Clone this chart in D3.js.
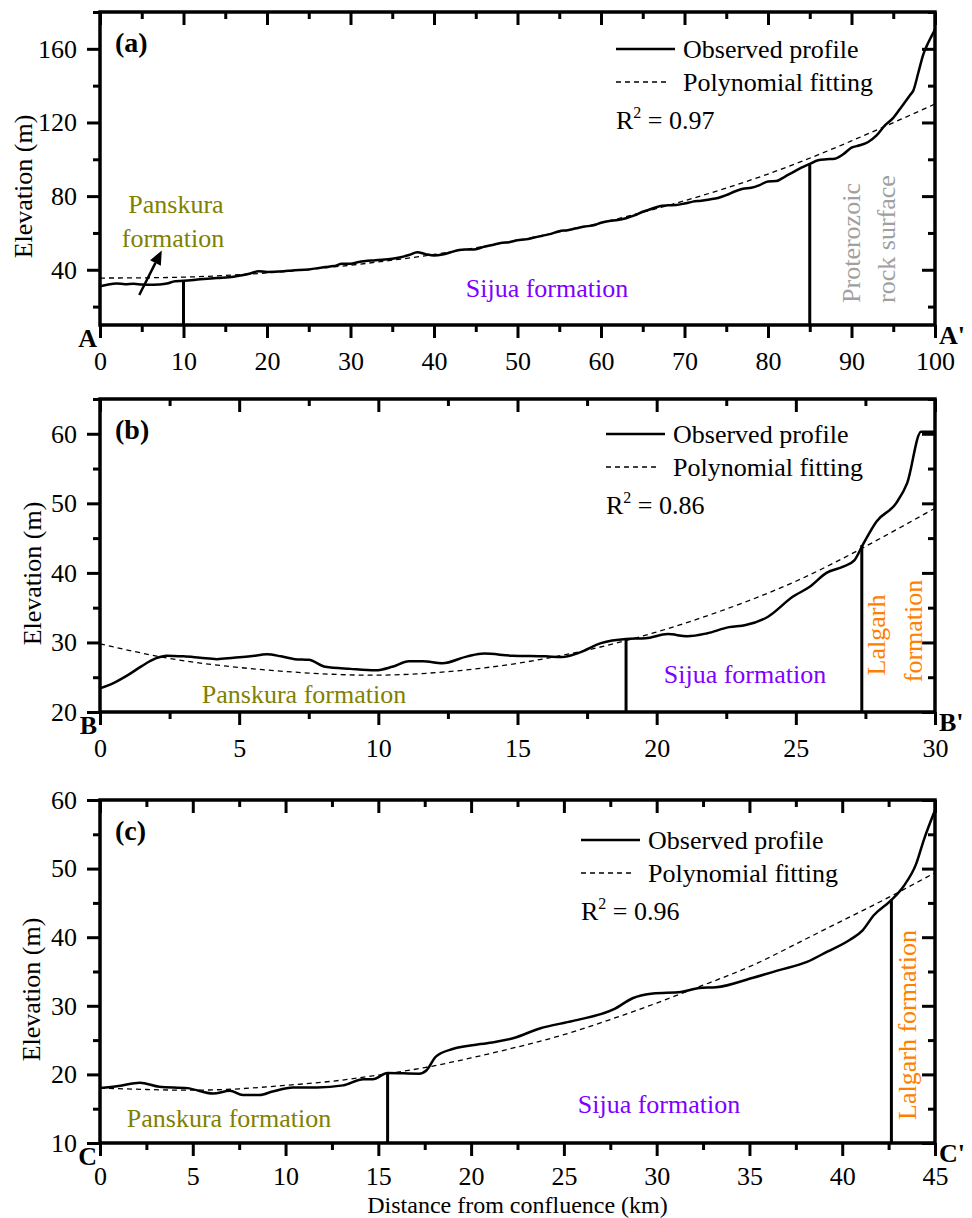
<!DOCTYPE html>
<html>
<head>
<meta charset="utf-8">
<script src="https://cdn.jsdelivr.net/npm/d3@7/dist/d3.min.js"></script>
<style>
	body { margin: 0; background: #fff; }
	svg { display: block; font-family: "Liberation Serif", "Times New Roman", serif; }
</style>
</head>
<body>
<svg id="chart" width="972" height="1218"></svg>
<script>
// observed longitudinal profiles, [distance from confluence (km), elevation (m)]
const observedA = [
	[0, 31.0], [1, 32.0], [2, 32.5], [3, 32.2], [4, 32.4], [5, 32.0], [6, 31.8], [7, 32.0], [8, 32.5], [9, 33.8],
	[10, 34.0], [12, 34.8], [14, 35.5], [16, 36.2], [17, 37.0], [18, 38.0], [19, 39.2], [20, 38.8], [22, 39.2],
	[23, 39.6], [25, 40.2], [27, 41.5], [28, 42.0], [29, 43.2], [30, 43.3], [31, 44.2], [33, 45.2], [35, 46.0],
	[36, 46.8], [37, 48.0], [38, 49.5], [39, 48.5], [40, 47.8], [41, 48.3], [42, 49.5], [43, 50.8], [44, 51.0],
	[45, 51.2], [46, 52.5], [47, 53.5], [48, 54.5], [49, 55.0], [50, 56.0], [51, 56.5], [52, 57.5], [53, 58.5],
	[54, 59.5], [55, 61.0], [56, 61.5], [57, 62.5], [58, 63.5], [59, 64.0], [60, 65.5], [61, 66.5], [62, 67.0],
	[63, 68.0], [64, 69.5], [65, 71.5], [66, 73.0], [67, 74.5], [68, 75.0], [69, 75.2], [70, 76.0], [71, 77.0],
	[72, 77.5], [73, 78.2], [74, 79.0], [75, 80.5], [76, 82.5], [77, 84.0], [78, 84.5], [79, 86.0], [80, 88.0],
	[81, 88.2], [82, 90.5], [83, 93.0], [84, 95.5], [85, 97.5], [86, 99.5], [87, 100.0], [88, 100.3], [89, 102.7],
	[90, 106.3], [91, 107.6], [92, 109.4], [93, 113.0], [94, 118.4], [95, 122.5], [96, 128.6], [97, 134.8],
	[97.4, 137.3], [98, 147.0], [98.6, 157.0], [99.2, 163.4], [100, 170.5]
];
const observedB = [
	[0, 23.4], [0.5, 24.2], [1, 25.3], [1.5, 26.6], [2, 27.7], [2.4, 28.1], [3, 28.0], [3.6, 27.8], [4.2, 27.6],
	[4.8, 27.8], [5.4, 28.0], [6.0, 28.3], [6.5, 28.0], [7.0, 27.6], [7.5, 27.5], [8.1, 26.5], [9.0, 26.2],
	[9.9, 26.0], [10.5, 26.5], [11.1, 27.3], [11.6, 27.3], [12.3, 27.0], [13.2, 28.0], [13.8, 28.4], [14.8, 28.1],
	[16.0, 28.0], [16.6, 27.9], [17.2, 28.5], [18.0, 29.9], [18.9, 30.5], [19.6, 30.6], [20.4, 31.2], [21.1, 30.9],
	[21.8, 31.3], [22.6, 32.2], [23.2, 32.5], [24.0, 33.7], [24.9, 36.6], [25.5, 38.0], [26.1, 40.0], [26.7, 40.9],
	[27.1, 41.8], [27.4, 44.0], [27.9, 47.4], [28.6, 50.0], [29.0, 52.9], [29.5, 60.3], [30, 60.3]
];
const observedC = [
	[0, 18.0], [1, 18.3], [2.15, 18.8], [3.2, 18.2], [4.7, 18.0], [6.1, 17.2], [7.0, 17.6], [7.7, 17.0], [8.6, 17.0],
	[9.3, 17.5], [10.4, 18.1], [11.7, 18.1], [13.1, 18.4], [14.2, 19.3], [14.7, 19.3], [15.5, 20.2], [17.2, 20.1],
	[17.6, 20.6], [18.1, 22.6], [19.0, 23.7], [21.0, 24.6], [22.3, 25.3], [23.7, 26.7], [25.5, 27.8], [27.7, 29.5],
	[28.7, 31.1], [29.8, 31.8], [31.3, 32.0], [32.3, 32.6], [33.2, 32.7], [35.2, 34.1], [36.6, 35.2], [38.1, 36.4],
	[39.2, 37.9], [40.4, 39.6], [41.1, 41.0], [41.7, 43.2], [42.6, 45.3], [43.3, 47.4], [44.0, 50.8], [44.4, 54.2],
	[45, 58.5]
];

// polynomial fitting curves
const fittedA = [[0, 35.5], [10, 36], [20, 38.3], [30, 42.5], [40, 48.3], [50, 56], [60, 65.5], [70, 77.5], [80, 92], [90, 110], [100, 130]];
const fittedB = [[0, 29.8], [2.5, 27.7], [5, 26.4], [7.5, 25.6], [10, 25.3], [12.5, 25.8], [15, 27.0], [17.5, 28.9], [20, 31.5], [22.5, 34.8], [25, 38.8], [27.5, 43.8], [30, 49.3]];
const fittedC = [[0, 18.0], [2.5, 17.8], [5, 17.7], [7.5, 17.9], [10, 18.4], [12.5, 19.0], [15, 19.9], [17.5, 21.0], [20, 22.4], [22.5, 24.0], [25, 25.8], [27.5, 28.0], [30, 30.4], [32.5, 33.0], [35, 35.7], [37.5, 39.0], [40, 42.4], [42.5, 45.8], [45, 49.4]];

// formation boundaries, [distance, elevation where it meets the profile]
const boundariesA = [[10, 34], [85, 97.5]];
const boundariesB = [[18.9, 30.5], [27.37, 44]];
const boundariesC = [[15.5, 20.2], [42.65, 45.5]];

const r2 = ["0.97", "0.86", "0.96"];
const panelLetters = ["(a)", "(b)", "(c)"];
const endLabels = [["A", "A'"], ["B", "B'"], ["C", "C'"]];

// ticks
const xMajorA = [0, 10, 20, 30, 40, 50, 60, 70, 80, 90, 100];
const xMinorA = [5, 15, 25, 35, 45, 55, 65, 75, 85, 95];
const yMajorA = [40, 80, 120, 160];
const yMinorA = [20, 60, 100, 140, 180];
const xMajorB = [0, 5, 10, 15, 20, 25, 30];
const xMinorB = [2.5, 7.5, 12.5, 17.5, 22.5, 27.5];
const yMajorB = [20, 30, 40, 50, 60];
const yMinorB = [25, 35, 45, 55, 65];
const xMajorC = [0, 5, 10, 15, 20, 25, 30, 35, 40, 45];
const xMinorC = [2.5, 7.5, 12.5, 17.5, 22.5, 27.5, 32.5, 37.5, 42.5];
const yMajorC = [10, 20, 30, 40, 50, 60];
const yMinorC = [15, 25, 35, 45, 55];

const OLIVE = "#808000", PURPLE = "#8000ff", ORANGE = "#ff8000", GREY = "#a0a0a0";
const FONT = 26;
const LEFT = 100, RIGHT = 935;

let svg = d3.select("#chart");

function text(g, str, x, y, opts = {}) {
	let t = g.append("text")
		.attr("x", x)
		.attr("y", y)
		.attr("font-size", opts.size || FONT)
		.attr("fill", opts.color || "#000")
		.attr("text-anchor", opts.anchor || "start")
		.text(str);
	if (opts.bold)
		t.attr("font-weight", "bold");
	if (opts.rotate)
		t.attr("x", 0).attr("y", 0).attr("transform", `translate(${x}, ${y}) rotate(-90)`);
	return t;
}

function drawPanel(p, index) {
	const x = d3.scaleLinear().domain(p.xDomain).range([LEFT, RIGHT]);
	const y = d3.scaleLinear().domain(p.yDomain).range([p.bottom, p.top]);
	let g = svg.append("g").attr("class", "panel");

	g.append("clipPath")
		.attr("id", "clip" + index)
		.append("rect")
			.attr("x", LEFT)
			.attr("y", p.top)
			.attr("width", RIGHT - LEFT)
			.attr("height", p.bottom - p.top);

	let plot = g.append("g").attr("clip-path", `url(#clip${index})`);

	let fitLine = d3.line().x(d => x(d[0])).y(d => y(d[1])).curve(d3.curveNatural);
	let obsLine = d3.line().x(d => x(d[0])).y(d => y(d[1])).curve(d3.curveMonotoneX);

	plot.append("path")
		.datum(p.fitted)
		.attr("d", fitLine)
		.attr("fill", "none")
		.attr("stroke", "#000")
		.attr("stroke-width", 1.3)
		.attr("stroke-dasharray", "5,4");

	plot.append("path")
		.datum(p.observed)
		.attr("d", obsLine)
		.attr("fill", "none")
		.attr("stroke", "#000")
		.attr("stroke-width", 2.5)
		.attr("stroke-linejoin", "round");

	plot.selectAll("line.boundary")
		.data(p.boundaries)
		.enter()
		.append("line")
			.attr("class", "boundary")
			.attr("x1", d => x(d[0]))
			.attr("x2", d => x(d[0]))
			.attr("y1", y(p.yDomain[0]))
			.attr("y2", d => y(d[1]))
			.attr("stroke", "#000")
			.attr("stroke-width", 3);

	// axes: outward ticks on left / bottom, inward mirror ticks on top / right
	const axes = [
		[d3.axisBottom(x).tickValues(p.xMajor).tickSize(13).tickPadding(p.xPadding), `translate(0, ${p.bottom})`],
		[d3.axisBottom(x).tickValues(p.xMinor).tickSize(7).tickFormat(""), `translate(0, ${p.bottom})`],
		[d3.axisTop(x).tickValues(p.xMajor).tickSize(-13).tickFormat(""), `translate(0, ${p.top})`],
		[d3.axisTop(x).tickValues(p.xMinor).tickSize(-7).tickFormat(""), `translate(0, ${p.top})`],
		[d3.axisLeft(y).tickValues(p.yMajor).tickSize(13).tickPadding(10), `translate(${LEFT}, 0)`],
		[d3.axisLeft(y).tickValues(p.yMinor).tickSize(7).tickFormat(""), `translate(${LEFT}, 0)`],
		[d3.axisRight(y).tickValues(p.yMajor).tickSize(-13).tickFormat(""), `translate(${RIGHT}, 0)`],
		[d3.axisRight(y).tickValues(p.yMinor).tickSize(-7).tickFormat(""), `translate(${RIGHT}, 0)`],
	];
	for (let [axis, transform] of axes) {
		let a = g.append("g")
			.attr("transform", transform)
			.call(axis.tickSizeOuter(0));
		a.attr("font-family", null).attr("font-size", FONT);
		a.select(".domain").remove();
		a.selectAll(".tick line").attr("stroke-width", 3);
		a.selectAll(".tick text").attr("fill", "#000");
	}

	g.append("rect")
		.attr("x", LEFT)
		.attr("y", p.top)
		.attr("width", RIGHT - LEFT)
		.attr("height", p.bottom - p.top)
		.attr("fill", "none")
		.attr("stroke", "#000")
		.attr("stroke-width", 3.5);

	text(g, "Elevation (m)", p.titleX, (p.top + p.bottom) / 2 + 18, { anchor: "middle", rotate: true });
	text(g, panelLetters[index], 115, p.top + 40, { bold: true, size: 28 });
	text(g, endLabels[index][0], 97, p.bottom + 22, { bold: true, anchor: "end" });
	text(g, endLabels[index][1], 939, p.bottom + 19, { bold: true });

	// legend
	let lg = p.legend;
	g.append("line")
		.attr("x1", lg.x).attr("x2", lg.x + 59)
		.attr("y1", lg.y).attr("y2", lg.y)
		.attr("stroke", "#000").attr("stroke-width", 2.5);
	g.append("line")
		.attr("x1", lg.x).attr("x2", lg.x + 51)
		.attr("y1", lg.y + 33).attr("y2", lg.y + 33)
		.attr("stroke", "#000").attr("stroke-width", 1.3)
		.attr("stroke-dasharray", "5,4");
	text(g, "Observed profile", lg.x + 67, lg.y + 9);
	text(g, "Polynomial fitting", lg.x + 67, lg.y + 42);
	let r = text(g, "R", lg.x, lg.y + 80);
	r.append("tspan").attr("dy", -11).attr("font-size", 16).text("2");
	r.append("tspan").attr("dy", 11).text(" = " + r2[index]);

	for (let lab of p.labels)
		text(g, lab.text, lab.x, lab.y, { color: lab.color, anchor: "middle", rotate: lab.rotate });

	if (p.arrow) {
		let [x0, y0] = [x(p.arrow[0][0]), y(p.arrow[0][1])];
		let [x1, y1] = [x(p.arrow[1][0]), y(p.arrow[1][1])];
		let ang = Math.atan2(y1 - y0, x1 - x0);
		let head = 14, half = 6;
		let bx = x1 - head * Math.cos(ang), by = y1 - head * Math.sin(ang);
		g.append("line")
			.attr("x1", x0).attr("y1", y0)
			.attr("x2", bx).attr("y2", by)
			.attr("stroke", "#000").attr("stroke-width", 2.5);
		g.append("path")
			.attr("d", `M${x1},${y1}L${bx + half * Math.sin(ang)},${by - half * Math.cos(ang)}L${bx - half * Math.sin(ang)},${by + half * Math.cos(ang)}Z`)
			.attr("fill", "#000");
	}
}

const panels = [
	{
		top: 12, bottom: 325, xDomain: [0, 100], yDomain: [10, 180],
		observed: observedA, fitted: fittedA, boundaries: boundariesA,
		xMajor: xMajorA, xMinor: xMinorA, yMajor: yMajorA, yMinor: yMinorA,
		xPadding: 14, titleX: 32, legend: { x: 616, y: 49 },
		labels: [
			{ text: "Panskura", x: 176, y: 213, color: OLIVE },
			{ text: "formation", x: 173, y: 247, color: OLIVE },
			{ text: "Sijua formation", x: 547, y: 297, color: PURPLE },
			{ text: "Proterozoic", x: 860, y: 243, color: GREY, rotate: true },
			{ text: "rock surface", x: 895, y: 239, color: GREY, rotate: true },
		],
		arrow: [[4.7, 26.3], [7.4, 50.5]],
	},
	{
		top: 399, bottom: 712, xDomain: [0, 30], yDomain: [20, 65],
		observed: observedB, fitted: fittedB, boundaries: boundariesB,
		xMajor: xMajorB, xMinor: xMinorB, yMajor: yMajorB, yMinor: yMinorB,
		xPadding: 14, titleX: 41, legend: { x: 606, y: 434 },
		labels: [
			{ text: "Panskura formation", x: 304, y: 703, color: OLIVE },
			{ text: "Sijua formation", x: 745, y: 683, color: PURPLE },
			{ text: "Lalgarh", x: 885, y: 635, color: ORANGE, rotate: true },
			{ text: "formation", x: 922, y: 631, color: ORANGE, rotate: true },
		],
	},
	{
		top: 800, bottom: 1143, xDomain: [0, 45], yDomain: [10, 60],
		observed: observedC, fitted: fittedC, boundaries: boundariesC,
		xMajor: xMajorC, xMinor: xMinorC, yMajor: yMajorC, yMinor: yMinorC,
		xPadding: 11, titleX: 40, legend: { x: 581, y: 840 },
		labels: [
			{ text: "Panskura formation", x: 229, y: 1127, color: OLIVE },
			{ text: "Sijua formation", x: 659, y: 1113, color: PURPLE },
			{ text: "Lalgarh formation", x: 916, y: 1025, color: ORANGE, rotate: true },
		],
	},
];

panels.forEach(drawPanel);

text(svg, "Distance from confluence (km)", (LEFT + RIGHT) / 2, 1213, { anchor: "middle", size: 24 });
</script>
</body>
</html>
